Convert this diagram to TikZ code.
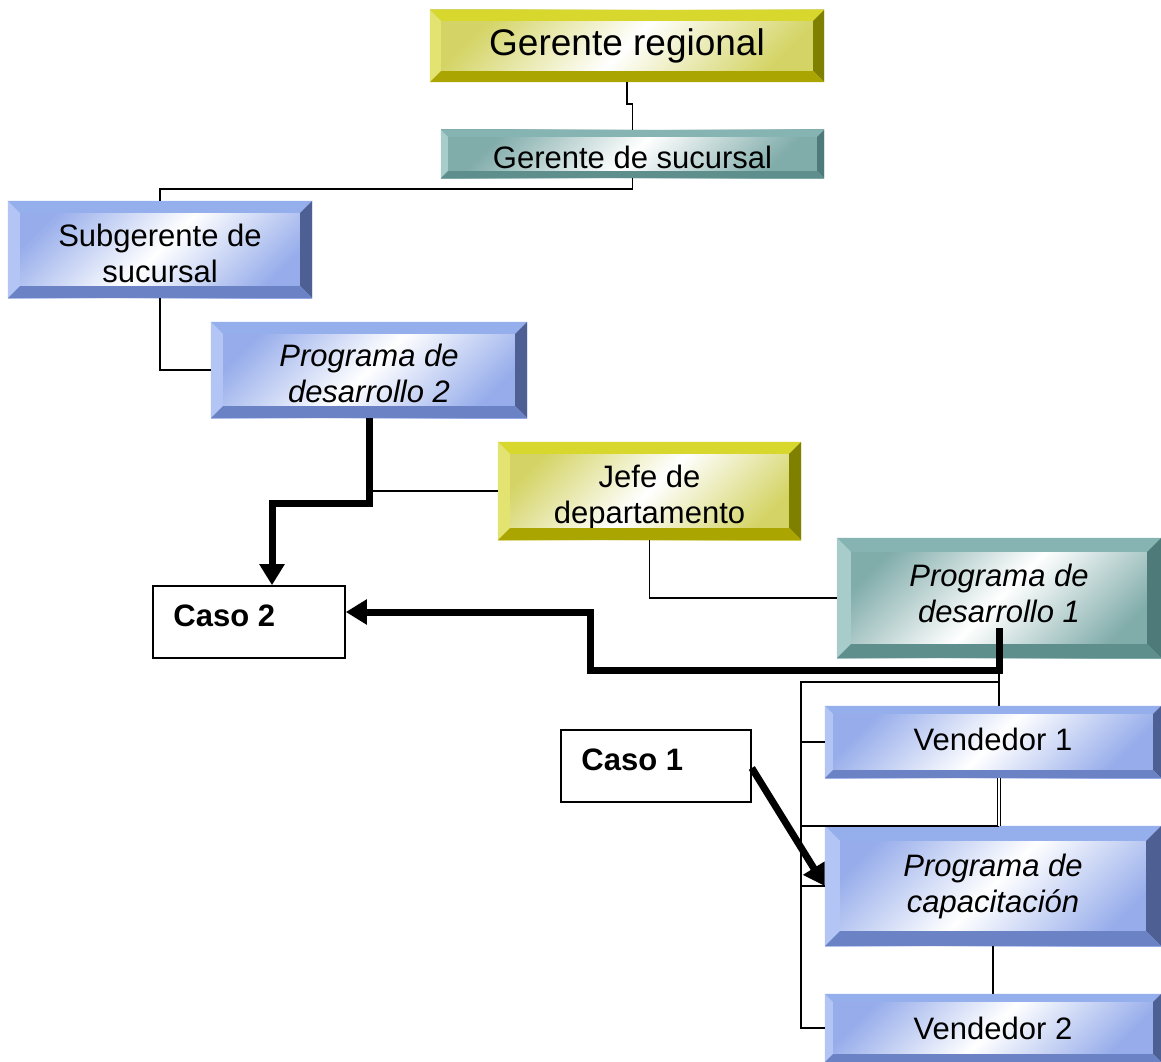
\documentclass[tikz,border=0pt]{standalone}
\usepackage{fontspec}
\setmainfont{Liberation Sans}
\usetikzlibrary{arrows.meta,calc}

% bevel colours: 1 top, 2 left, 3 right, 4 bottom, F face
\definecolor{Y1}{HTML}{D7D72E}
\definecolor{Y2}{HTML}{E3E372}
\definecolor{Y3}{HTML}{808000}
\definecolor{Y4}{HTML}{AAA500}
\definecolor{YF}{HTML}{D4D466}
\definecolor{T1}{HTML}{86B4B2}
\definecolor{T2}{HTML}{A8CCCA}
\definecolor{T3}{HTML}{4E7B79}
\definecolor{T4}{HTML}{5F8F8D}
\definecolor{TF}{HTML}{80ACAA}
\definecolor{B1}{HTML}{95AEEC}
\definecolor{B2}{HTML}{B3C5F5}
\definecolor{B3}{HTML}{4D5F93}
\definecolor{B4}{HTML}{6B83C5}
\definecolor{BF}{HTML}{97ADEB}

% struts that nudge a label down (\dn) or up (\up) inside its box
\newcommand{\dn}[1]{\rule{0pt}{#1}}
\newcommand{\up}[1]{\rule[-#1]{0pt}{0pt}}

\tikzset{
  box/.style={inner sep=0pt, align=center, font=\fontsize{31}{36}\selectfont},
  yface/.style={box, top color=YF, bottom color=YF, middle color=white, shading angle=45},
  tface/.style={box, top color=TF, bottom color=TF, middle color=white, shading angle=45},
  bface/.style={box, top color=BF, bottom color=BF, middle color=white, shading angle=45},
  casebox/.style={draw, line width=1.6pt, fill=white, inner sep=0pt},
  caselabel/.style={anchor=west, inner sep=0pt, font=\fontsize{31}{36}\selectfont\bfseries},
  conn/.style={line width=1.6pt},
  bigarrow/.style={line width=7pt, -{Triangle[length=21pt,width=24pt]}},
}

\begin{document}
\begin{tikzpicture}[x=1pt,y=-1pt]
\useasboundingbox[fill=white] (0,0) rectangle (1161,1062);

\coordinate (bus) at (801,682);

% boxes
\node[yface, minimum width=394pt, minimum height=72pt, font=\fontsize{37}{42}\selectfont] (greg) at (627,46) {Gerente regional};
\node[tface, minimum width=383pt, minimum height=48pt] (gsuc) at (632.5,154) {\dn{29pt}Gerente de sucursal};
\node[bface, minimum width=304pt, minimum height=97pt] (sub) at (160,249.5) {\dn{31pt}Subgerente de\\sucursal};
\node[bface, minimum width=316pt, minimum height=96pt, font=\fontsize{31}{36}\selectfont\itshape] (pd2) at (369,370) {\dn{29pt}Programa de\\desarrollo 2};
\node[yface, minimum width=303pt, minimum height=98pt] (jefe) at (649.5,491) {\dn{36pt}Jefe de\\departamento};
\node[tface, minimum width=324pt, minimum height=120pt, font=\fontsize{31}{36}\selectfont\itshape] (pd1) at (999,598) {Programa de\\desarrollo 1\up{9pt}};
\node[bface, minimum width=336pt, minimum height=72pt] (v1) at (993,742) {Vendedor 1\up{6pt}};
\node[bface, minimum width=336pt, minimum height=120pt, font=\fontsize{31}{36}\selectfont\itshape] (pcap) at (993,886) {Programa de\\capacitación};
\node[bface, minimum width=336pt, minimum height=68pt] (v2) at (993,1028) {Vendedor 2};

% bevelled frames drawn over the faces
\foreach \n/\b/\sc in {greg/11/Y, gsuc/7/T, sub/12/B, pd2/12/B, jefe/12/Y, pd1/14/T, v1/8/B, pcap/15/B, v2/8/B}{
  \fill[\sc1] (\n.north west) -- (\n.north east) -- ($(\n.north east)+(-\b,\b)$) -- ($(\n.north west)+(\b,\b)$) -- cycle;
  \fill[\sc2] (\n.north west) -- ($(\n.north west)+(\b,\b)$) -- ($(\n.south west)+(\b,-\b)$) -- (\n.south west) -- cycle;
  \fill[\sc3] (\n.north east) -- ($(\n.north east)+(-\b,\b)$) -- ($(\n.south east)+(-\b,-\b)$) -- (\n.south east) -- cycle;
  \fill[\sc4] (\n.south west) -- ($(\n.south west)+(\b,-\b)$) -- ($(\n.south east)+(-\b,-\b)$) -- (\n.south east) -- cycle;
}

% case boxes
\node[casebox, minimum width=192pt, minimum height=72pt] (c2) at (249,622) {};
\node[caselabel] at ($(c2.west)+(21,-6)$) {Caso 2};
\node[casebox, minimum width=190pt, minimum height=72pt] (c1) at (656,766) {};
\node[caselabel] at ($(c1.west)+(21,-6)$) {Caso 1};

% hierarchy lines
\draw[conn] (greg.south) -- ++(0,22) -| (gsuc.north);
\draw[conn] (gsuc.south) -- ++(0,11) -| (sub.north);
\draw[conn] (sub.south) |- (pd2.west);
\draw[conn] (jefe.west) -- (jefe.west -| pd2.south);
\draw[conn] (jefe.south) |- (pd1.west);
\draw[conn] (pd1.south) -- (pd1.south |- v1.north);
\draw[conn] (pd1.south |- bus) -- (bus) |- (v2.west);
\draw[conn] (bus |- v1.west) -- (v1.west);
\draw[conn] (bus |- pcap.north) -- (pcap.north -| pd1.south);
\draw[conn] (bus |- pcap.west) -- (pcap.west);
\draw[line width=1.2pt, double distance=1.6pt] (v1.south -| pd1.south) -- (pcap.north -| pd1.south);
\draw[conn] (pcap.south) -- (v2.north);

% case arrows
\coordinate (jog) at (590,670);
\draw[bigarrow] (pd2.south) -- ++(0,85) -| ([xshift=23pt]c2.north);
\draw[bigarrow] ([yshift=-30pt]pd1.center) |- (jog) |- ([yshift=10pt]c2.east);
\draw[bigarrow] ([yshift=-2pt]c1.east) -- (pcap.west);
\end{tikzpicture}
\end{document}
